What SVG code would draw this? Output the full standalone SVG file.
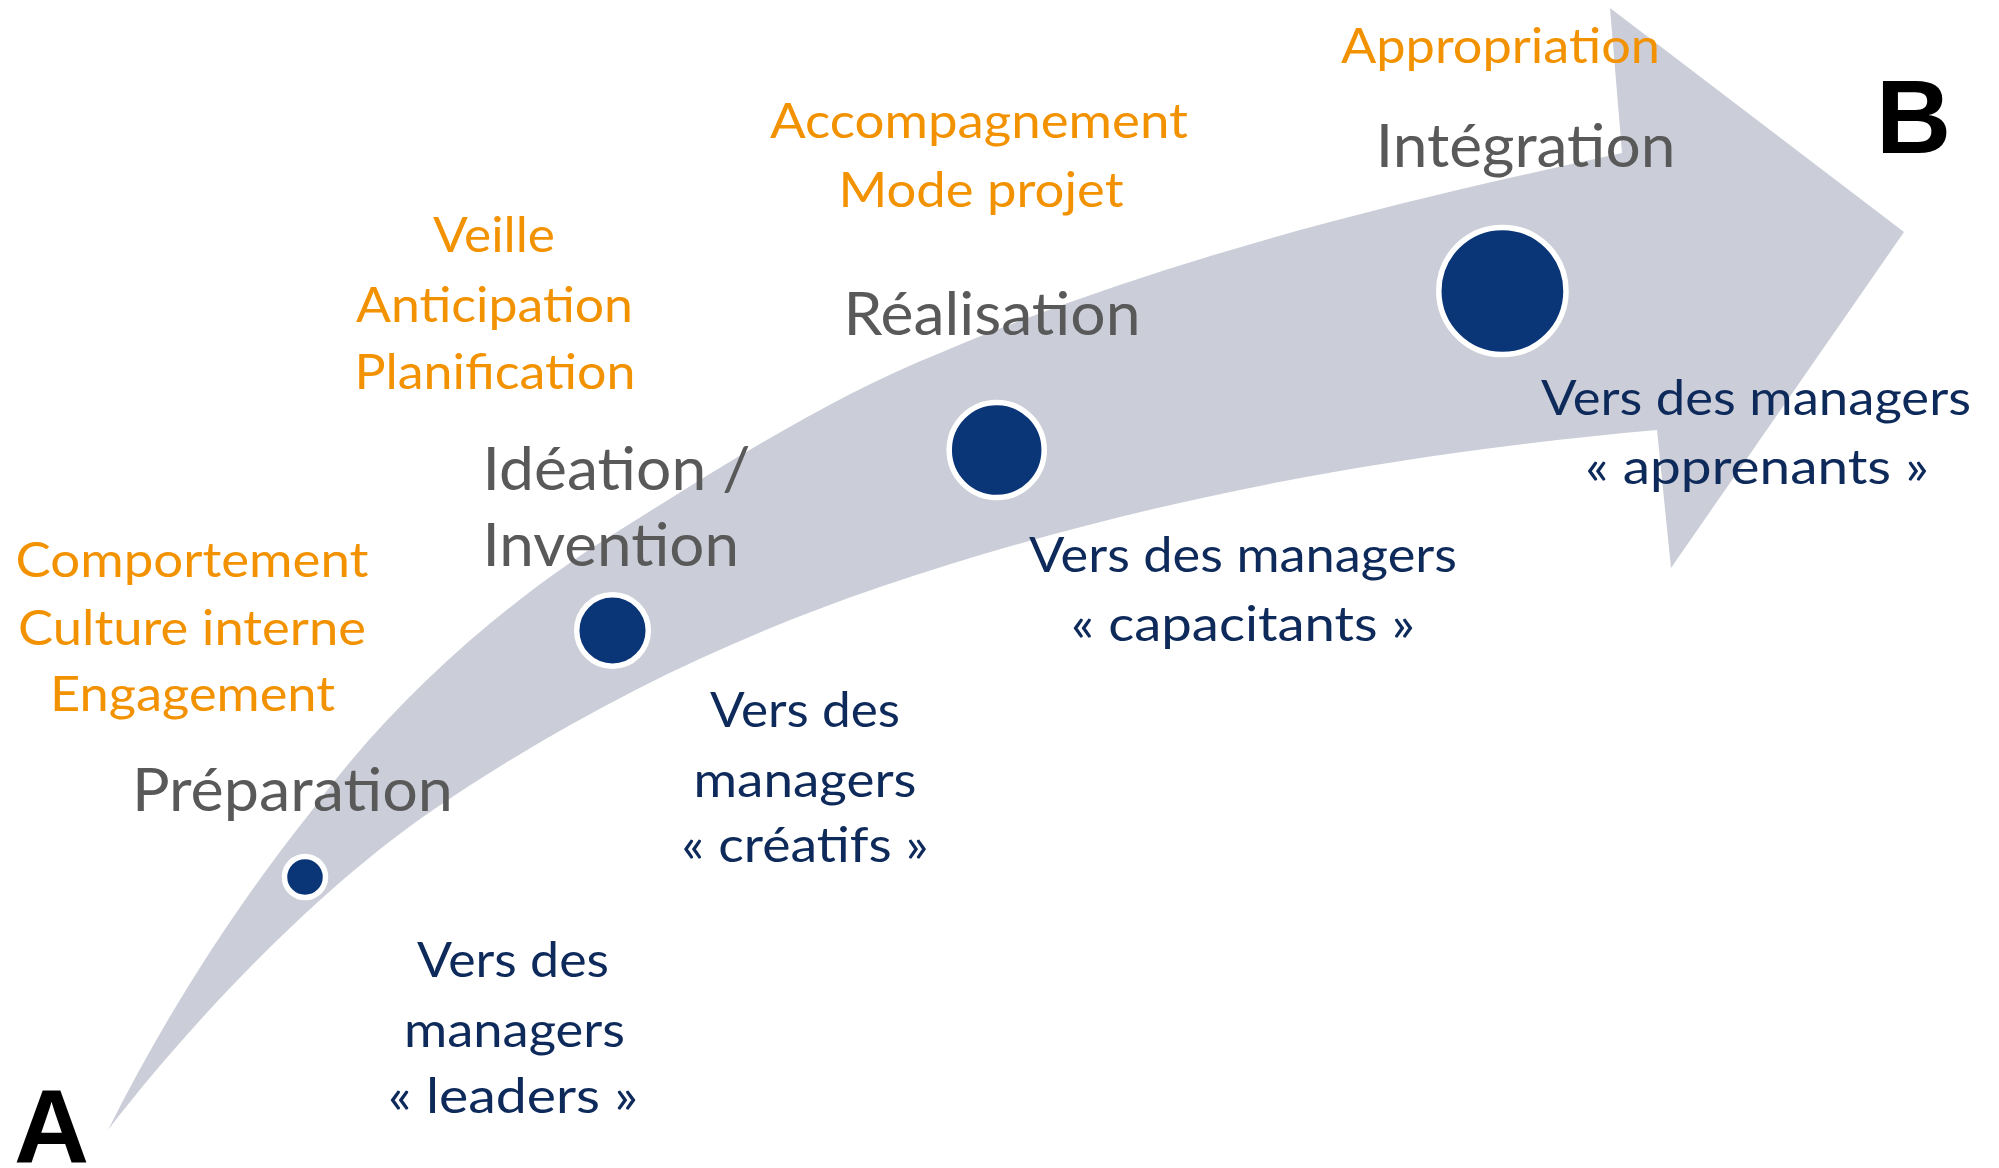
<svg xmlns="http://www.w3.org/2000/svg" width="1999" height="1168" viewBox="0 0 1999 1168">
<style>
.or{font-family:Lato,"Open Sans","Liberation Sans",sans-serif;font-size:48px;fill:#F39200;text-anchor:middle}
.nv{font-family:Lato,"Open Sans","Liberation Sans",sans-serif;font-size:48px;fill:#0E2A5B;text-anchor:middle}
.gr{font-family:Lato,"Open Sans","Liberation Sans",sans-serif;font-size:60px;fill:#595959}
.big{font-family:"Liberation Sans",Arial,sans-serif;font-size:104px;font-weight:bold;fill:#000}
.dot{fill:#0A3678;stroke:#fff;stroke-width:5.5}
</style>
<rect width="1999" height="1168" fill="#fff"/>
<g id="arrow">
<path fill="#CBCED8" d="M108,1130 C168,1010 240,900.5 310,813 C400,690 515,596 612,535 C722,466 830,397 940,353 C1170,256 1392,203 1622,153 L1610,8 L1904,232 L1671,568 L1657,430 C1397,453 1140,499 880,587 C730,638 583,708 433,810 C323,885 198,1013 108,1130 Z"/>
</g>
<g id="preparation">
<circle class="dot" cx="305" cy="877" r="20.5"/>
<text class="gr" x="292.4" y="811" text-anchor="middle" textLength="321" lengthAdjust="spacingAndGlyphs">Préparation</text>
<text class="or" x="192" y="577" textLength="353" lengthAdjust="spacingAndGlyphs">Comportement</text>
<text class="or" x="192" y="645" textLength="348" lengthAdjust="spacingAndGlyphs">Culture interne</text>
<text class="or" x="192.5" y="711" textLength="285" lengthAdjust="spacingAndGlyphs">Engagement</text>
<text class="nv" x="513" y="977" textLength="192" lengthAdjust="spacingAndGlyphs">Vers des</text>
<text class="nv" x="514.5" y="1047" textLength="221" lengthAdjust="spacingAndGlyphs">managers</text>
<text class="nv" x="513" y="1113" textLength="250" lengthAdjust="spacingAndGlyphs">« leaders »</text>
</g>
<g id="ideation">
<circle class="dot" cx="612.5" cy="630.5" r="35.8"/>
<text class="gr" x="482.5" y="490" textLength="268" lengthAdjust="spacingAndGlyphs">Idéation /</text>
<text class="gr" x="482.5" y="566" textLength="256.5" lengthAdjust="spacingAndGlyphs">Invention</text>
<text class="or" x="494" y="252" textLength="122" lengthAdjust="spacingAndGlyphs">Veille</text>
<text class="or" x="494.5" y="322" textLength="277" lengthAdjust="spacingAndGlyphs">Anticipation</text>
<text class="or" x="495" y="388.5" textLength="281" lengthAdjust="spacingAndGlyphs">Planification</text>
<text class="nv" x="805" y="727" textLength="190" lengthAdjust="spacingAndGlyphs">Vers des</text>
<text class="nv" x="805" y="796.5" textLength="223" lengthAdjust="spacingAndGlyphs">managers</text>
<text class="nv" x="805" y="861.5" textLength="247" lengthAdjust="spacingAndGlyphs">« créatifs »</text>
</g>
<g id="realisation">
<circle class="dot" cx="996.7" cy="450" r="47.5"/>
<text class="gr" x="992" y="335" text-anchor="middle" textLength="297" lengthAdjust="spacingAndGlyphs">Réalisation</text>
<text class="or" x="979" y="138" textLength="418" lengthAdjust="spacingAndGlyphs">Accompagnement</text>
<text class="or" x="981" y="206.5" textLength="285" lengthAdjust="spacingAndGlyphs">Mode projet</text>
<text class="nv" x="1243" y="572" textLength="428" lengthAdjust="spacingAndGlyphs">Vers des managers</text>
<text class="nv" x="1243" y="640.5" textLength="344" lengthAdjust="spacingAndGlyphs">« capacitants »</text>
</g>
<g id="integration">
<circle class="dot" cx="1502.4" cy="291" r="63.6"/>
<text class="gr" x="1525.6" y="166.5" text-anchor="middle" textLength="299.6" lengthAdjust="spacingAndGlyphs">Intégration</text>
<text class="or" x="1500.5" y="63" textLength="319" lengthAdjust="spacingAndGlyphs">Appropriation</text>
<text class="nv" x="1756" y="415" textLength="430" lengthAdjust="spacingAndGlyphs">Vers des managers</text>
<text class="nv" x="1757" y="484" textLength="343.6" lengthAdjust="spacingAndGlyphs">« apprenants »</text>
</g>
<g id="endpoints">
<text class="big" x="14" y="1162">A</text>
<text class="big" x="1876" y="153">B</text>
</g>
</svg>
